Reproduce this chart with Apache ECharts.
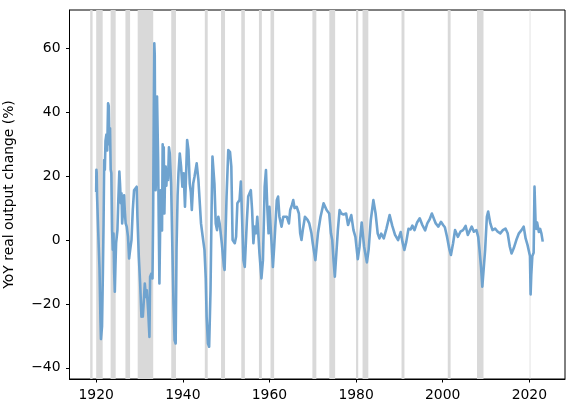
<!DOCTYPE html>
<html>
<head>
<meta charset="utf-8">
<script src="https://cdn.jsdelivr.net/npm/echarts@6/dist/echarts.min.js"></script>
<style>
html,body{margin:0;padding:0;background:#fff;}
#chart{width:574px;height:413px;}
</style>
</head>
<body>
<div id="chart"></div>
<script>
// Decimal years of the sampled points
const years = [
1920.0,1920.05,1920.12,1920.2,1920.46,1920.77,1921.0,1921.1,1921.35,1921.55,1921.7,1921.85,
1922.0,1922.15,1922.35,1922.55,1922.75,1922.9,1923.05,1923.2,1923.35,1923.5,1923.68,1923.84,
1924.0,1924.15,1924.3,1924.45,1924.6,1924.9,1925.1,1925.35,1925.5,1925.7,1925.85,1926.0,
1926.15,1926.45,1926.6,1926.8,1927.05,1927.35,1927.6,1927.85,1928.15,1928.45,1928.75,1929.05,
1929.35,1929.52,1929.84,1930.15,1930.45,1930.6,1930.77,1931.05,1931.22,1931.5,1931.68,1932.0,
1932.3,1932.45,1932.75,1933.0,1933.15,1933.3,1933.42,1933.52,1933.62,1933.72,1933.9,1934.05,
1934.18,1934.3,1934.45,1934.6,1934.75,1934.9,1935.05,1935.2,1935.35,1935.45,1935.6,1935.75,
1935.9,1936.05,1936.2,1936.4,1936.6,1936.8,1937.0,1937.3,1937.6,1937.85,1938.1,1938.35,
1938.55,1938.8,1939.0,1939.3,1939.6,1939.9,1940.2,1940.5,1940.75,1941.0,1941.3,1941.6,
1941.85,1942.08,1942.4,1942.7,1943.2,1943.6,1943.9,1944.2,1944.6,1945.0,1945.3,1945.5,
1945.8,1946.08,1946.4,1946.65,1946.85,1947.15,1947.3,1947.6,1947.9,1948.2,1948.5,1949.0,
1949.5,1949.65,1950.1,1950.5,1950.9,1951.2,1951.5,1952.0,1952.3,1952.6,1953.1,1953.4,
1953.7,1954.0,1954.3,1954.8,1955.1,1955.7,1956.0,1956.3,1956.6,1956.9,1957.2,1957.7,
1958.15,1958.5,1958.9,1959.2,1959.5,1959.8,1960.0,1960.5,1960.8,1961.1,1961.7,1962.0,
1962.3,1962.8,1963.2,1964.0,1964.5,1964.8,1965.2,1965.5,1965.8,1966.3,1966.8,1967.1,
1967.4,1967.7,1968.2,1968.8,1969.2,1969.7,1970.0,1970.6,1971.2,1971.8,1972.5,1972.9,
1973.2,1973.8,1974.2,1974.5,1974.8,1975.1,1975.4,1975.8,1976.2,1976.6,1977.1,1977.7,
1978.15,1978.9,1979.4,1979.85,1980.4,1980.8,1981.3,1981.85,1982.5,1982.9,1983.4,1984.0,
1984.5,1985.0,1985.4,1985.8,1986.4,1987.0,1987.75,1988.35,1989.0,1989.7,1990.3,1990.7,
1991.15,1991.6,1992.1,1992.6,1993.0,1993.5,1994.1,1994.7,1995.3,1995.95,1996.45,1997.0,
1997.5,1997.9,1998.4,1999.0,1999.6,2000.1,2000.5,2001.0,2001.5,2001.9,2002.4,2002.85,
2003.5,2004.1,2004.7,2005.3,2005.8,2006.2,2006.7,2007.2,2007.8,2008.2,2008.5,2008.85,
2009.15,2009.45,2009.8,2010.2,2010.5,2011.0,2011.5,2012.1,2012.7,2013.3,2013.9,2014.5,
2015.0,2015.5,2015.9,2016.4,2017.0,2017.6,2018.2,2018.7,2019.15,2019.6,2019.95,2020.15,
2020.3,2020.45,2020.7,2021.0,2021.2,2021.3,2021.45,2021.6,2021.8,2022.2,2022.5,2022.8,
2023.1
];
// YoY real output change (%)
const yoy = [
15,22,21,14,3,-9,-26,-31,-27,-10,5,25,
22,31,33,28,42.8,42,30,35,22,21,3,-3,
2,-10,-16.2,-8,-1,3,12,21.4,17.7,11.5,14.6,5.2,
5.2,14,9.4,5.2,4.2,1,-5.8,-3,0,9.4,15.6,16.2,
16.7,7.3,-5.2,-13.6,-24,-22,-24,-17.8,-13.6,-17.8,-15.7,-22,
-30.3,-11.5,-10.5,-12,8,40,61.6,58,30,15.6,22,44.9,
45.5,25,5,-13.6,2,15.6,5,3,30,15,29,8.3,
20,23,17,22,18.8,29,27,17.7,-3,-20,-31.3,-32.4,
-3,14,20.9,27.1,23,16.7,20.9,10.4,20,31.3,28.2,17.7,
15,9.4,17.7,19.8,24,18.8,12,5.2,1,-3.1,-12,-24,
-32.4,-33.4,-15.7,10,26.1,26.1,17.7,5.2,3.1,7.3,5.2,-1,
-8.4,-9.4,13.6,28.2,27.5,23,0,-1,1,11.5,12.5,18.3,
6.3,-6.3,-8.4,6.3,13.6,15.6,9.4,-1,4.2,2.1,7.3,-4.2,
-12,-6.3,16.7,21.9,10.4,2.1,10.4,-1,-8.4,-2,12.5,13.6,
7.3,4.2,7.3,7.3,5.2,9.4,11,12.5,10,10.4,8.3,2.1,
0,3.1,7.3,6.3,5.2,2.1,-1,-6.3,2.1,7.3,11.5,12,
9.4,8.3,2.1,0,-6.3,-11.5,-11.5,3.1,9.4,8.3,8,8.3,
4.7,7.8,3.1,1,-6,-2.1,5.5,-2,-7,-3,6.2,12.5,
8.4,2,0.5,2,0.5,3.5,7.8,4.5,1.6,0,2.5,-0.5,
-3.1,-0.5,3.5,3.3,4.5,3.1,5.5,6.8,4.7,3,5.2,6.5,
8.3,8.3,5.2,4.2,5.7,4.7,4,1,-2.6,-4.7,-1,3.1,
1,2.6,3.1,4.4,1.6,2.1,4.2,2.6,3.1,1,-3.1,-8.4,
-14.6,-15,-3.1,7.3,8.9,5.2,3.1,3.6,2.6,2.1,3.1,3.6,
2.1,-2.1,-4.2,-2.6,0,2.1,3.1,4.2,0.5,-1.6,-2.1,-5,
-17,-11,-5,-4,16.7,16.2,5.2,3.5,5.5,2.5,3.5,2,
-0.5
];
// Recession periods (decimal years)
const recessionStarts = [1918.62,1920.0,1923.33,1926.75,1929.58,1937.33,1945.08,1948.83,1953.5,1957.58,1960.25,1969.92,1973.83,1980.0,1981.5,1990.5,2001.17,2007.92,2020.08];
const recessionEnds   = [1919.17,1921.5,1924.5,1927.83,1933.17,1938.42,1945.75,1949.75,1954.33,1958.25,1961.08,1970.83,1975.17,1980.5,1982.83,1991.17,2001.83,2009.42,2020.25];
const xTicks = [1920,1940,1960,1980,2000,2020];
const yTicks = [-40,-20,0,20,40,60];

const seriesData = years.map((y, i) => [y, yoy[i]]);
const bands = recessionStarts.map((s, i) => [{xAxis: s}, {xAxis: recessionEnds[i]}]);

const font = 'DejaVu Sans';
const fmtNum = v => (v < 0 ? '\u2212' + Math.abs(v) : String(v));
const chart = echarts.init(document.getElementById('chart'), null, {renderer: 'canvas'});
chart.setOption({
  animation: false,
  backgroundColor: '#fff',
  grid: {left: 69.5, right: 9, top: 10, bottom: 34, show: true, borderColor: '#000', borderWidth: 1,
         backgroundColor: 'transparent', containLabel: false, outerBoundsMode: 'none'},
  xAxis: {
    type: 'value', min: 1913.84, max: 2028.24,
    axisLine: {show: true, onZero: false, lineStyle: {color: '#000', width: 1}},
    axisTick: {show: true, length: 3.5, inside: false, customValues: xTicks, lineStyle: {color: '#000', width: 1}},
    axisLabel: {customValues: xTicks, color: '#000', fontSize: 13.9, fontFamily: font, margin: 9, formatter: v => String(v)},
    splitLine: {show: false}
  },
  yAxis: {
    type: 'value', min: -43.5, max: 72,
    name: 'YoY real output change (%)', nameLocation: 'middle', nameGap: 53,
    nameTextStyle: {color: '#000', fontSize: 13.9, fontFamily: font},
    axisLine: {show: true, onZero: false, lineStyle: {color: '#000', width: 1}},
    axisTick: {show: true, length: 3.5, inside: false, customValues: yTicks, lineStyle: {color: '#000', width: 1}},
    axisLabel: {customValues: yTicks, color: '#000', fontSize: 13.9, fontFamily: font, margin: 9, formatter: fmtNum},
    splitLine: {show: false}
  },
  series: [{
    type: 'line',
    data: seriesData,
    showSymbol: false,
    symbol: 'none',
    lineStyle: {color: '#6fa3cf', width: 2.6, join: 'round'},
    z: 3,
    markArea: {
      silent: true,
      itemStyle: {color: '#d9d9d9'},
      data: bands
    }
  }]
});
</script>
</body>
</html>
